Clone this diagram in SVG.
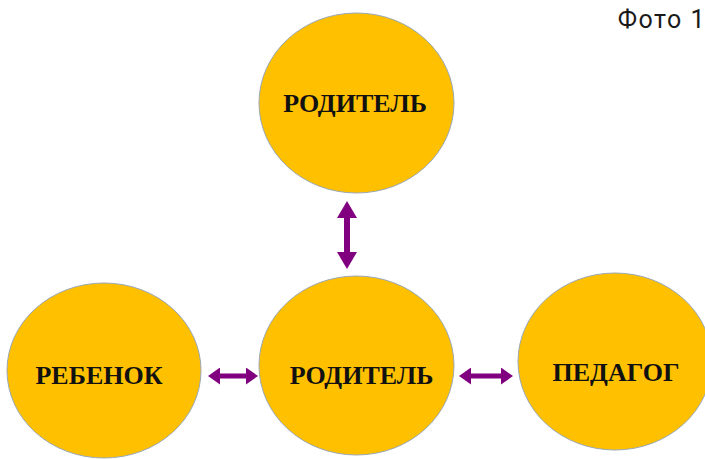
<svg xmlns="http://www.w3.org/2000/svg" width="705" height="459" viewBox="0 0 705 459">
  <style>
    .node ellipse { fill: #FFC000; stroke: #9AA7B4; stroke-width: 1; }
    .node text { font-family: "Liberation Serif", "Times New Roman", serif; font-weight: bold; font-size: 26px; fill: #111; text-anchor: middle; }
    .conn line { stroke: #800080; stroke-width: 6; }
    .cap { font-family: Roboto, "Noto Sans", sans-serif; font-size: 25px; letter-spacing: 1.5px; fill: #1a1a1a; text-anchor: end; }
  </style>
  <defs>
    <marker id="ah" markerUnits="userSpaceOnUse" markerWidth="17" markerHeight="20" refX="0" refY="10" orient="auto-start-reverse" viewBox="0 0 17 20">
      <path d="M0,0 L17,10 L0,20 Z" fill="#800080"/>
    </marker>
    <marker id="ahs" markerUnits="userSpaceOnUse" markerWidth="12" markerHeight="17" refX="0" refY="8.5" orient="auto-start-reverse" viewBox="0 0 12 17">
      <path d="M0,0 L12,8.5 L0,17 Z" fill="#800080"/>
    </marker>
  </defs>
  <rect width="705" height="459" fill="#fff"/>
  <text class="cap" x="706" y="28">Фото 1</text>
  <g id="conns" class="conn">
    <line x1="347" y1="218" x2="347" y2="252" marker-start="url(#ah)" marker-end="url(#ah)"/>
    <line x1="220" y1="376" x2="246" y2="376" style="stroke-width:5" marker-start="url(#ahs)" marker-end="url(#ahs)"/>
    <line x1="471" y1="376" x2="501" y2="376" style="stroke-width:5" marker-start="url(#ahs)" marker-end="url(#ahs)"/>
  </g>
  <g id="parent-top" class="node">
    <ellipse cx="356.5" cy="103" rx="97.5" ry="90"/>
    <text x="355" y="112">РОДИТЕЛЬ</text>
  </g>
  <g id="child" class="node">
    <ellipse cx="104" cy="370.5" rx="97" ry="87.5"/>
    <text x="99" y="384">РЕБЕНОК</text>
  </g>
  <g id="parent-mid" class="node">
    <ellipse cx="356.5" cy="365.5" rx="97.5" ry="89.5"/>
    <text x="361.5" y="384">РОДИТЕЛЬ</text>
  </g>
  <g id="teacher" class="node">
    <ellipse cx="615" cy="361.5" rx="97" ry="88.5"/>
    <text x="616" y="381">ПЕДАГОГ</text>
  </g>
</svg>
